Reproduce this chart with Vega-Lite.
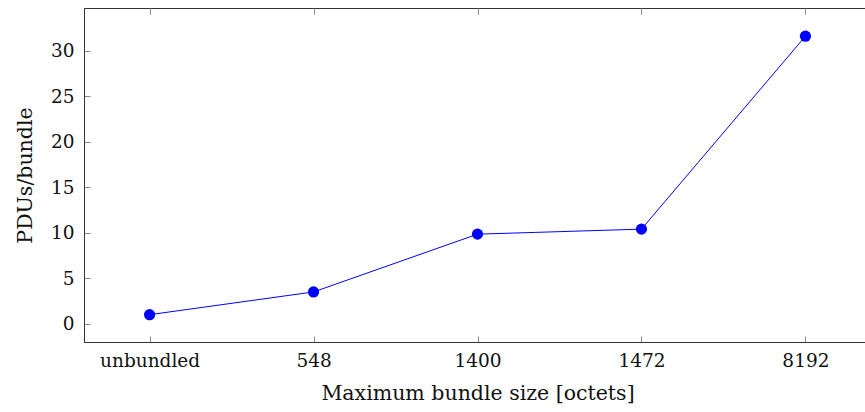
{
  "$schema": "https://vega.github.io/schema/vega-lite/v6.json",
  "autosize": "none",
  "width": 787,
  "height": 334,
  "padding": {"left": 84, "top": 8, "right": 0, "bottom": 70},
  "background": "white",
  "config": {
    "view": {"stroke": "#333", "strokeWidth": 1},
    "font": "DejaVu Serif",
    "axis": {
      "labelFont": "DejaVu Serif",
      "titleFont": "DejaVu Serif",
      "labelFontSize": 18.5,
      "titleFontSize": 20.5,
      "labelColor": "#111",
      "titleColor": "#111",
      "titleFontWeight": "normal",
      "grid": false,
      "domainColor": "#333",
      "tickColor": "#888",
      "tickSize": -6,
      "tickWidth": 1
    }
  },
  "data": {
    "values": [
      {"size": "unbundled", "pdus": 1.0},
      {"size": "548", "pdus": 3.5},
      {"size": "1400", "pdus": 9.85},
      {"size": "1472", "pdus": 10.4},
      {"size": "8192", "pdus": 31.6}
    ]
  },
  "layer": [
    {
      "mark": {"type": "line", "color": "#0000ff", "strokeWidth": 1},
      "encoding": {
        "x": {
          "field": "size", "type": "ordinal", "sort": null,
          "scale": {"type": "point", "padding": 0.4},
          "axis": {"orient": "bottom", "labelAngle": 0, "labelPadding": 15, "title": "Maximum bundle size [octets]", "titlePadding": 14}
        },
        "y": {
          "field": "pdus", "type": "quantitative",
          "scale": {"domain": [-2, 34.7], "nice": false, "zero": false},
          "axis": {"orient": "left", "values": [0, 5, 10, 15, 20, 25, 30], "labelPadding": 16, "title": "PDUs/bundle", "titlePadding": 15}
        }
      }
    },
    {
      "mark": {"type": "point", "filled": true, "color": "#0000ff", "size": 125, "opacity": 1},
      "encoding": {
        "x": {"field": "size", "type": "ordinal", "sort": null, "axis": {"orient": "top", "labels": false, "title": null, "domain": false}},
        "y": {"field": "pdus", "type": "quantitative", "axis": {"orient": "right", "labels": false, "title": null, "domain": false, "values": [0, 5, 10, 15, 20, 25, 30]}}
      }
    }
  ],
  "resolve": {"axis": {"x": "independent", "y": "independent"}}
}
